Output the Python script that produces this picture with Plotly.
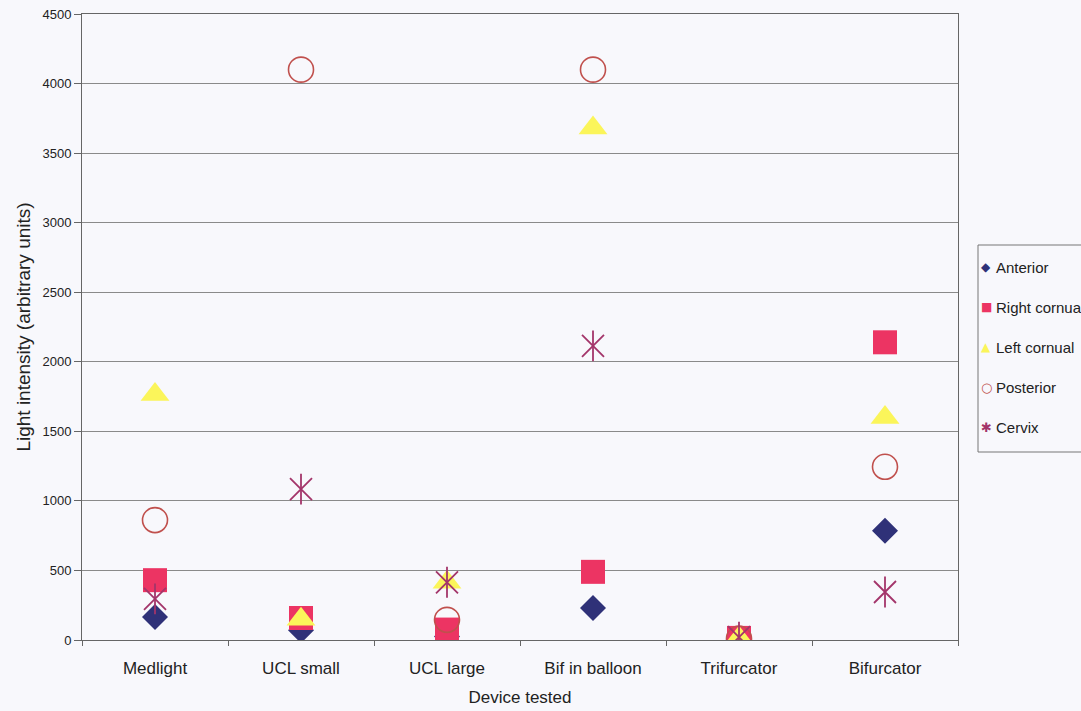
import plotly.graph_objects as go

devices = ["Medlight", "UCL small", "UCL large", "Bif in balloon", "Trifurcator", "Bifurcator"]

anterior = [165, 70, 25, 230, 5, 785]
right_cornual = [430, 158, 75, 490, 15, 2140]
left_cornual = [1765, 150, 415, 3680, 15, 1600]
posterior = [862, 4100, 145, 4100, 10, 1245]
cervix = [295, 1085, 415, 2115, 20, 345]

y_ticks = [0, 500, 1000, 1500, 2000, 2500, 3000, 3500, 4000, 4500]

C_ANT = "#2f3178"
C_RC = "#ec3463"
C_LC = "#fbf55a"
C_POST = "#c0504d"
C_CERV = "#a3356a"

fig = go.Figure()
fig.add_trace(go.Scatter(x=devices, y=anterior, mode="markers", name="Anterior",
                         marker=dict(symbol="diamond", size=20, color=C_ANT, line=dict(width=0))))
fig.add_trace(go.Scatter(x=devices, y=right_cornual, mode="markers", name="Right cornual",
                         marker=dict(symbol="square", size=24, color=C_RC, line=dict(width=0))))
fig.add_trace(go.Scatter(x=devices, y=left_cornual, mode="markers", name="Left cornual",
                         marker=dict(symbol="triangle-up", size=25, color=C_LC, line=dict(width=0))))
fig.add_trace(go.Scatter(x=devices, y=posterior, mode="markers", name="Posterior",
                         marker=dict(symbol="circle-open", size=25, color=C_POST,
                                     line=dict(width=1.6, color=C_POST))))
# Star marker for cervix: an X with a vertical stroke through it
fig.add_trace(go.Scatter(x=devices, y=cervix, mode="markers", name="Cervix",
                         marker=dict(symbol="x-thin-open", size=22, color=C_CERV,
                                     line=dict(width=1.8, color=C_CERV))))
fig.add_trace(go.Scatter(x=devices, y=cervix, mode="markers", name="Cervix", showlegend=False,
                         marker=dict(symbol="line-ns-open", size=22, color=C_CERV,
                                     line=dict(width=1.8, color=C_CERV))))

# Plot area in pixels, used to place the legend box in paper units
L, R, T, B = 82, 123, 14, 71
W, H = 1081, 711
pw, ph = W - L - R, H - T - B


def px_x(x):
    return (x - L) / pw


def px_y(y):
    return (H - B - y) / ph


legend_items = [
    ("◆", C_ANT, "Anterior", 12),
    ("■", C_RC, "Right cornual", 12),
    ("▲", C_LC, "Left cornual", 12),
    ("○", C_POST, "Posterior", 13),
    ("✱", C_CERV, "Cervix", 13),
]
legend_rows = [267, 307, 347, 387, 427]

fig.add_shape(type="rect", xref="paper", yref="paper",
              x0=px_x(978), x1=px_x(1095), y0=px_y(452), y1=px_y(245),
              line=dict(color="#777777", width=1), fillcolor="rgba(0,0,0,0)")
for (glyph, col, label, gsize), row in zip(legend_items, legend_rows):
    fig.add_annotation(xref="paper", yref="paper", x=px_x(986), y=px_y(row),
                       text=glyph, showarrow=False, xanchor="center", yanchor="middle",
                       font=dict(size=gsize, color=col, family="DejaVu Sans"))
    fig.add_annotation(xref="paper", yref="paper", x=px_x(994), y=px_y(row),
                       text=label, showarrow=False, xanchor="left", yanchor="middle",
                       font=dict(size=15, color="#222222"))

fig.update_layout(
    width=W, height=H,
    margin=dict(l=L, r=R, t=T, b=B),
    paper_bgcolor="#f8f8fc",
    plot_bgcolor="#f8f8fc",
    font=dict(family="Liberation Sans, Arial, sans-serif", color="#222222"),
    showlegend=False,
)

fig.update_xaxes(
    type="category", categoryorder="array", categoryarray=devices,
    range=[-0.5, len(devices) - 0.5], automargin=False,
    showline=True, linecolor="#666666", linewidth=1, mirror=True,
    ticks="outside", tickson="boundaries", ticklen=5, tickcolor="#666666",
    showgrid=False, tickfont=dict(size=17), ticklabelstandoff=13,
    title=dict(text="Device tested", font=dict(size=17), standoff=13),
)
fig.update_yaxes(
    range=[0, 4500], tickvals=y_ticks, automargin=False,
    showline=True, linecolor="#666666", linewidth=1, mirror=True,
    ticks="outside", ticklen=7, tickcolor="#666666",
    showgrid=True, gridcolor="#8a8a8a", gridwidth=1, zeroline=False,
    tickfont=dict(size=13),
    title=dict(text="Light intensity (arbitrary units)", font=dict(size=19), standoff=6),
)

fig.write_html("out.html")
